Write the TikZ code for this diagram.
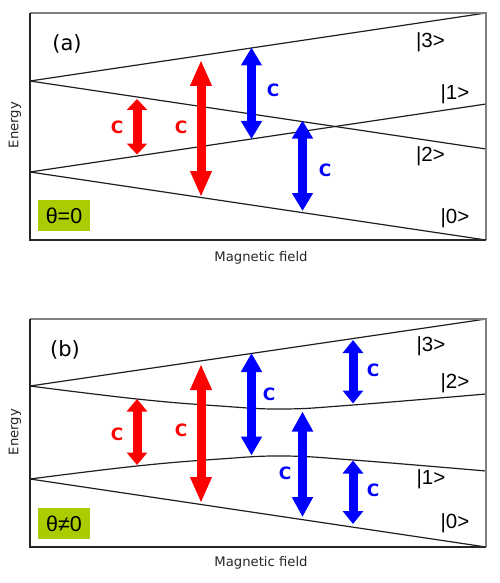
\documentclass[tikz,border=0pt]{standalone}
\usepackage{fontspec}
\setmainfont{DejaVu Sans}
\newfontfamily\libsans{Liberation Sans}
\usetikzlibrary{arrows.meta}
\definecolor{thetagreen}{RGB}{170,204,0}
\definecolor{cblue}{RGB}{0,0,255}
\definecolor{cred}{RGB}{255,0,0}
\begin{document}
\begin{tikzpicture}[x=1pt,y=-1pt,
  level/.style={line width=1.2pt, draw=black!88},
  framedark/.style={line width=1.2pt, draw=black!85},
  framelight/.style={line width=1.2pt, draw=black!50},
  carrow/.style 2 args={draw=#1, line width=9pt,
     arrows={Triangle[length=#2,width=20pt]-Triangle[length=#2,width=20pt]}},
  clabel/.style={text=#1, inner sep=0pt, font=\fontsize{17}{19}\selectfont\bfseries},
  ket/.style={inner sep=0pt, font=\libsans\fontsize{20.5}{22}\selectfont},
  axislabel/.style={inner sep=0pt, font=\fontsize{13.2}{15}\selectfont, text=black!85},
  panellabel/.style={inner sep=0pt, font=\fontsize{21}{23}\selectfont},
  thetabox/.style={fill=thetagreen, minimum width=52pt, minimum height=31pt, inner sep=0pt,
     font=\libsans\fontsize{21.5}{23}\selectfont}
]
\useasboundingbox (0,0) rectangle (500,583);

% ---------------- Panel (a) ----------------
\coordinate (aTL) at (30,13);
\coordinate (aBR) at (486,240);
\coordinate (aU) at (30,81);
\coordinate (aD) at (30,172);
\coordinate (a3) at (486,13);
\coordinate (a2) at (486,149);
\coordinate (a1) at (486,104);
\coordinate (a0) at (486,240);
\draw[level] (aU) -- (a3);
\draw[level] (aU) -- (a2);
\draw[level] (aD) -- (a1);
\draw[level] (aD) -- (a0);
\draw[framelight] (aTL) -| (aBR);
\draw[framedark] (aTL) |- (aBR);

\coordinate (ra1t) at (137,99);   \coordinate (ra1b) at (137,154.5);
\coordinate (ra2t) at (201,60);   \coordinate (ra2b) at (201,197);
\coordinate (ba1t) at (251.5,47.5); \coordinate (ba1b) at (251.5,139);
\coordinate (ba2t) at (302.5,120.5); \coordinate (ba2b) at (302.5,211);
\draw[carrow={cred}{11pt}] (ra1t) -- (ra1b);
\draw[carrow={cred}{26pt}] (ra2t) -- (ra2b);
\draw[carrow={cblue}{18pt}] (ba1t) -- (ba1b);
\draw[carrow={cblue}{18pt}] (ba2t) -- (ba2b);

\node[clabel=cred] (ca1) at (117,127) {C};
\node[clabel=cred] (ca2) at (181,127) {C};
\node[clabel=cblue] (ca3) at (273,90) {C};
\node[clabel=cblue] (ca4) at (325,170) {C};

\node[ket] (ka3) at (430.5,42.5) {|3>};
\node[ket] (ka1) at (455,94) {|1>};
\node[ket] (ka2) at (430.5,156.5) {|2>};
\node[ket] (ka0) at (455,218) {|0>};

\node[panellabel] (pa) at (67,44) {(a)};
\node[thetabox] (tha) at (64,215.5) {θ=0};
\node[axislabel, rotate=90] (ea) at (15,125) {Energy};
\node[axislabel] (ma) at (261,258) {Magnetic field};

% ---------------- Panel (b) ----------------
\coordinate (bTL) at (30,319);
\coordinate (bBR) at (486,547);
\coordinate (bU) at (30,386);
\coordinate (bD) at (30,479);
\coordinate (b3) at (486,319);
\coordinate (b0) at (486,547);
\draw[level] (bU) -- (b3);
\draw[level] (bD) -- (b0);
\draw[level] plot[smooth, tension=0.7] coordinates
  {(30,386) (137,399) (220,406) (283,409) (353,405) (486,394)};
\draw[level] plot[smooth, tension=0.7] coordinates
  {(30,479) (137,466) (220,459) (283,456) (353,460) (486,471)};
\draw[framelight] (bTL) -| (bBR);
\draw[framedark] (bTL) |- (bBR);

\coordinate (rb1t) at (137,399);   \coordinate (rb1b) at (137,465);
\coordinate (rb2t) at (201,364);   \coordinate (rb2b) at (201,503);
\coordinate (bb1t) at (251.5,353); \coordinate (bb1b) at (251.5,455.5);
\coordinate (bb2t) at (302.5,411.5); \coordinate (bb2b) at (302.5,517);
\coordinate (bb3t) at (353,340);   \coordinate (bb3b) at (353,403.5);
\coordinate (bb4t) at (353,460.5); \coordinate (bb4b) at (353,524);
\draw[carrow={cred}{12.5pt}] (rb1t) -- (rb1b);
\draw[carrow={cred}{26pt}] (rb2t) -- (rb2b);
\draw[carrow={cblue}{19pt}] (bb1t) -- (bb1b);
\draw[carrow={cblue}{20pt}] (bb2t) -- (bb2b);
\draw[carrow={cblue}{13pt}] (bb3t) -- (bb3b);
\draw[carrow={cblue}{13pt}] (bb4t) -- (bb4b);

\node[clabel=cred] (cb1) at (117,434) {C};
\node[clabel=cred] (cb2) at (181,430) {C};
\node[clabel=cblue] (cb3) at (269,394) {C};
\node[clabel=cblue] (cb4) at (285,473) {C};
\node[clabel=cblue] (cb5) at (373,370) {C};
\node[clabel=cblue] (cb6) at (373,490) {C};

\node[ket] (kb3) at (431,346.5) {|3>};
\node[ket] (kb2) at (455,383) {|2>};
\node[ket] (kb1) at (431,479) {|1>};
\node[ket] (kb0) at (455,523.5) {|0>};

\node[panellabel] (pb) at (65,350) {(b)};
\node[thetabox] (thb) at (64,523.5) {θ≠0};
\node[axislabel, rotate=90] (eb) at (15,432) {Energy};
\node[axislabel] (mb) at (261,562.5) {Magnetic field};
\end{tikzpicture}
\end{document}
